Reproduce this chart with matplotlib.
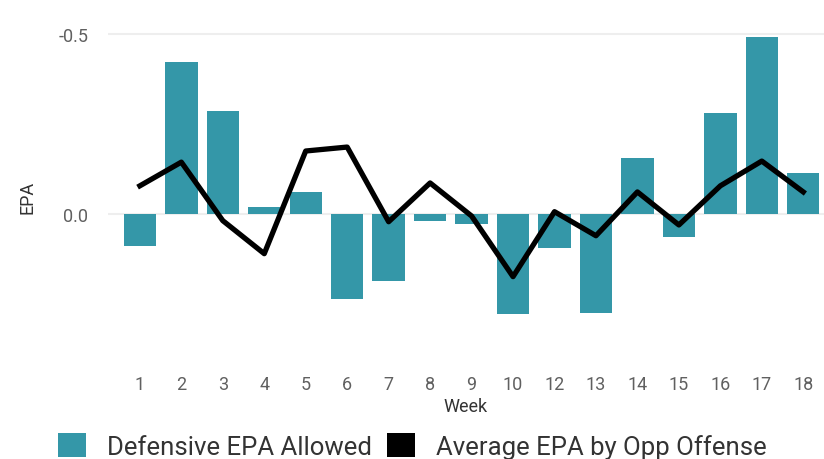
import matplotlib.pyplot as plt
import numpy as np
from matplotlib.patches import Patch

# dados (eixo y invertido)
weeks = ['1', '2', '3', '4', '5', '6', '7', '8', '9', '10', '12', '13', '14', '15', '16', '17', '18']
def_epa = [0.089, -0.422, -0.286, -0.019, -0.061, 0.236, 0.186, 0.019, 0.028,
           0.278, 0.094, 0.275, -0.156, 0.064, -0.281, -0.492, -0.114]
opp_off_epa = [-0.078, -0.144, 0.019, 0.111, -0.175, -0.186, 0.022, -0.086, 0.006,
               0.175, -0.006, 0.061, -0.061, 0.031, -0.078, -0.147, -0.061]

teal = '#3497a8'
plt.rcParams['font.family'] = ['Roboto', 'DejaVu Sans']

fig = plt.figure(figsize=(8.24, 4.6), dpi=100)
ax = fig.add_axes([0.131, 0.213, 0.869, 0.718])

x = np.arange(len(weeks))
ax.bar(x, def_epa, width=0.78, color=teal, zorder=2)
ax.plot(x, opp_off_epa, color='black', linewidth=3.8, zorder=3)

ax.set_xlim(-0.77, len(weeks) - 0.5)
ax.set_ylim(0.41, -0.51)
ax.set_yticks([-0.5, 0.0])
ax.set_yticklabels(['-0.5', '0.0'])
ax.set_xticks(x)
ax.set_xticklabels(weeks)
ax.grid(axis='y', color='#eeeeee', linewidth=1.5, zorder=0)
for s in ax.spines.values():
    s.set_visible(False)
ax.tick_params(length=0, labelsize=13, colors='#606060', pad=10)
ax.tick_params(axis='y', pad=14)
ax.set_xlabel('Week', fontsize=13, color='#333333', labelpad=3)
ax.set_ylabel('EPA', fontsize=13, color='#333333', labelpad=16)

handles = [Patch(facecolor=teal), Patch(facecolor='black')]
fig.legend(handles, ['Defensive EPA Allowed', 'Average EPA by Opp Offense'],
           loc='lower left', bbox_to_anchor=(0.042, -0.05), ncol=2, frameon=False,
           fontsize=18.5, handlelength=1.1, handleheight=1.1, columnspacing=0.6,
           handletextpad=0.8, labelcolor='#333333')

fig.savefig('out.png', dpi=100)
